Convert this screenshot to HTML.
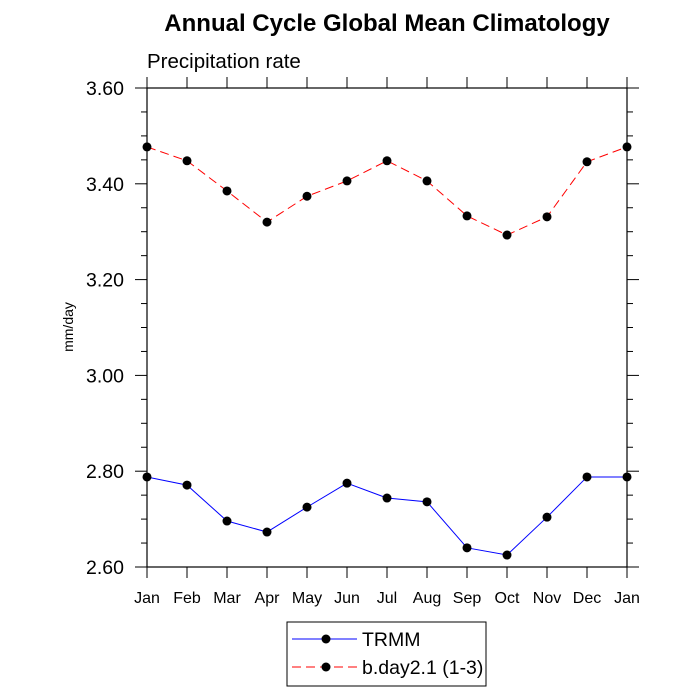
<!DOCTYPE html>
<html><head><meta charset="utf-8"><style>
body{margin:0;background:#fff;}
svg{display:block;font-family:"Liberation Sans",Arial,sans-serif;}
</style></head><body>
<svg id="c" width="700" height="700">
<text x="387" y="31" font-size="24" font-weight="bold" text-anchor="middle">Annual Cycle Global Mean Climatology</text>
<text x="147" y="68" font-size="20.5">Precipitation rate</text>
<text transform="translate(73,327) rotate(-90)" font-size="14" text-anchor="middle">mm/day</text>
<g id="axes"></g>
<g id="series"></g>
<g>
<rect x="287" y="622" width="199" height="64" fill="#fff" stroke="#000" stroke-width="1"/>
<line x1="292" y1="639" x2="357" y2="639" stroke="#0000ff" stroke-width="1"/>
<circle cx="326" cy="639" r="4.5" fill="#000"/>
<text x="362" y="646" font-size="19.5">TRMM</text>
<line x1="292" y1="667" x2="357" y2="667" stroke="#ff0000" stroke-width="1" stroke-dasharray="9,5"/>
<circle cx="326" cy="667" r="4.5" fill="#000"/>
<text x="362" y="674" font-size="19.5">b.day2.1 (1-3)</text>
</g>
</svg>
<script>
const months=["Jan","Feb","Mar","Apr","May","Jun","Jul","Aug","Sep","Oct","Nov","Dec","Jan"];
const trmm=[2.788,2.771,2.696,2.673,2.725,2.775,2.744,2.736,2.640,2.625,2.704,2.788,2.788];
const bday=[3.477,3.448,3.385,3.320,3.374,3.406,3.448,3.406,3.333,3.293,3.331,3.446,3.477];
const yTicks=[2.6,2.8,3.0,3.2,3.4,3.6];
const yMin=2.6,yMax=3.6;
const L=147,R=627,T=88,B=567;
const NS="http://www.w3.org/2000/svg";
function xs(i){return L+(R-L)*i/(months.length-1);}
function ys(v){return B-(v-yMin)/(yMax-yMin)*(B-T);}
function mk(t,a,p){const e=document.createElementNS(NS,t);for(const k in a)e.setAttribute(k,a[k]);p.appendChild(e);return e;}
const ax=document.getElementById('axes');
const fr=mk('rect',{x:L,y:T,width:R-L,height:B-T,fill:'none',stroke:'#000','stroke-width':1.2},ax);


for(let v=yMin;v<=yMax+1e-9;v+=0.05){
  const y=ys(v);const maj=Math.abs(Math.round(v*5)-v*5)<1e-6;const len=maj?12:6;
  mk('line',{x1:L-len,x2:L,y1:y,y2:y,stroke:'#000'},ax);
  mk('line',{x1:R,x2:R+len,y1:y,y2:y,stroke:'#000'},ax);
}
yTicks.forEach(v=>{
  const t=mk('text',{x:L-23,y:ys(v)+7,'font-size':19.5,'text-anchor':'end'},ax);t.textContent=v.toFixed(2);
  
  
});
months.forEach((m,i)=>{
  const x=xs(i);
  mk('line',{x1:x,x2:x,y1:B,y2:B+11,stroke:'#000'},ax);
  mk('line',{x1:x,x2:x,y1:T-11,y2:T,stroke:'#000'},ax);
  const t=mk('text',{x:x,y:B+36,'font-size':16,'text-anchor':'middle'},ax);t.textContent=m;
  
  
});
const sg=document.getElementById('series');
function draw(d,col,dash,name){
  const p=mk('polyline',{points:d.map((v,i)=>xs(i)+','+ys(v)).join(' '),fill:'none',stroke:col,'stroke-width':1,'stroke-dasharray':dash},sg);
  
  
  d.forEach((v,i)=>{
    const c=mk('circle',{cx:xs(i),cy:ys(v),r:4.5,fill:'#000'},sg);
    
    
  });
}
draw(trmm,'#0000ff','none','trmm');
draw(bday,'#ff0000','9,5','bday');
</script>
</body></html>
